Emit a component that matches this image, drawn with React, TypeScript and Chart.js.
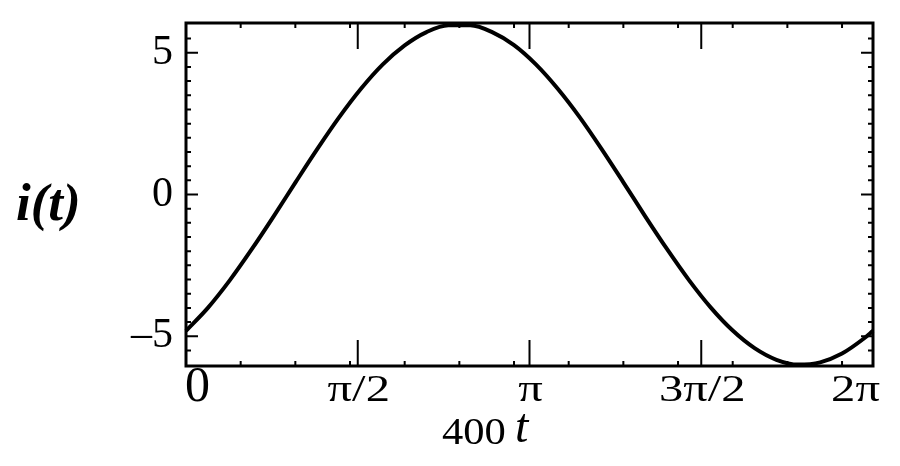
import { useEffect, useRef } from "react";
import { Chart, registerables } from "chart.js";

Chart.register(...registerables);

// 400t (rad) and i(t)
const xValues = [0, 0.2, 0.4, 0.6, 0.8, 1.0, 1.2, 1.4, 1.6, 1.8, 2.0, 2.2, 2.4, 2.6, 2.8, 3.0, 3.2, 3.4, 3.6, 3.8, 4.0, 4.2, 4.4, 4.6, 4.8, 5.0, 5.2, 5.4, 5.6, 5.8, 6.0, 6.2, 6.283];
const iValues = [-4.81, -4.0, -3.03, -1.94, -0.78, 0.42, 1.6, 2.72, 3.73, 4.59, 5.26, 5.73, 5.97, 5.97, 5.73, 5.27, 4.59, 3.73, 2.73, 1.61, 0.43, -0.77, -1.93, -3.02, -3.99, -4.8, -5.42, -5.83, -6.0, -5.92, -5.61, -5.08, -4.81];

const xMajorTicks = [0, Math.PI / 2, Math.PI, (3 * Math.PI) / 2, 2 * Math.PI];
const xTickLabels = ["0", "π/2", "π", "3π/2", "2π"];
const xMinorTicks = [0.5, 1, 1.5, 2, 2.5, 3, 3.5, 4, 4.5, 5, 5.5, 6];
const yMajorTicks = [-5, 0, 5];
const yTickLabels = ["\u20135", "0", "5"];
const yMinorTicks = [-5.5, -4.5, -4, -3.5, -3, -2.5, -2, -1.5, -1, -0.5, 0.5, 1, 1.5, 2, 2.5, 3, 3.5, 4, 4.5, 5.5];

const serif = '"Liberation Serif", "Times New Roman", serif';

// text in the source is drawn wide, so stretch it sideways a bit
function wideText(ctx: CanvasRenderingContext2D, text: string, x: number, y: number, sx: number, align: CanvasTextAlign) {
  ctx.save();
  ctx.translate(x, y);
  ctx.scale(sx, 1);
  ctx.textAlign = align;
  ctx.fillText(text, 0, 0);
  ctx.restore();
}

const framePlugin = {
  id: "frameTicks",
  afterDraw(chart: any) {
    const { ctx, chartArea: a, scales } = chart;
    const x = scales.x;
    const y = scales.y;
    ctx.save();
    ctx.strokeStyle = "#000";
    ctx.lineWidth = 3;
    ctx.strokeRect(a.left, a.top, a.right - a.left, a.bottom - a.top);

    ctx.lineWidth = 2;
    ctx.beginPath();
    const xt = (v: number, len: number) => {
      const px = x.getPixelForValue(v);
      ctx.moveTo(px, a.bottom);
      ctx.lineTo(px, a.bottom - len);
      ctx.moveTo(px, a.top);
      ctx.lineTo(px, a.top + len);
    };
    const yt = (v: number, len: number) => {
      const py = y.getPixelForValue(v);
      ctx.moveTo(a.left, py);
      ctx.lineTo(a.left + len, py);
      ctx.moveTo(a.right, py);
      ctx.lineTo(a.right - len, py);
    };
    xMinorTicks.forEach((v) => xt(v, 5));
    xMajorTicks.forEach((v) => xt(v, 26));
    yMinorTicks.forEach((v) => yt(v, 5));
    yMajorTicks.forEach((v) => yt(v, 12));
    ctx.stroke();

    ctx.fillStyle = "#000";
    ctx.textBaseline = "alphabetic";

    // x tick labels
    const base = a.bottom + 35;
    xMajorTicks.forEach((v, k) => {
      const px = x.getPixelForValue(v);
      if (k === 0) {
        ctx.font = `50px ${serif}`;
        wideText(ctx, xTickLabels[k], px - 1, base, 1, "left");
      } else {
        ctx.font = `38px ${serif}`;
        const last = k === xMajorTicks.length - 1;
        wideText(ctx, xTickLabels[k], last ? px + 7 : px + 1, base, 1.28, last ? "right" : "center");
      }
    });

    // axis titles
    ctx.textAlign = "left";
    ctx.font = `italic bold 53px ${serif}`;
    ctx.fillText("i(t)", 16, 220);

    ctx.font = `37px ${serif}`;
    wideText(ctx, "400", 442, 444, 1.15, "left");
    ctx.font = `italic 48px ${serif}`;
    ctx.textAlign = "left";
    ctx.fillText("t", 515, 442);
    ctx.restore();
  },
};

export default function App() {
  const canvasRef = useRef<HTMLCanvasElement | null>(null);
  const chartRef = useRef<Chart | null>(null);

  useEffect(() => {
    document.body.style.margin = "0";
    if (canvasRef.current) {
      if (chartRef.current) {
        chartRef.current.destroy();
      }
      chartRef.current = new Chart(canvasRef.current, {
        type: "line",
        data: {
          datasets: [
            {
              data: xValues.map((v, k) => ({ x: v, y: iValues[k] })),
              borderColor: "#000",
              borderWidth: 4,
              pointRadius: 0,
              cubicInterpolationMode: "monotone",
              clip: 4,
            },
          ],
        },
        options: {
          animation: false,
          responsive: true,
          maintainAspectRatio: false,
          layout: { padding: { top: 23, right: 27, left: 0, bottom: 0 } },
          plugins: { legend: { display: false }, tooltip: { enabled: false } },
          scales: {
            x: {
              type: "linear",
              min: 0,
              max: 2 * Math.PI,
              grid: { display: false, drawTicks: false },
              border: { display: false },
              afterBuildTicks: (s: any) => {
                s.ticks = xMajorTicks.map((v) => ({ value: v }));
              },
              afterFit: (s: any) => {
                s.height = 100;
                s.paddingLeft = 0;
                s.paddingRight = 0;
              },
              ticks: { display: false },
            },
            y: {
              min: -6.05,
              max: 6.05,
              grid: { display: false, drawTicks: false },
              border: { display: false },
              afterBuildTicks: (s: any) => {
                s.ticks = yMajorTicks.map((v) => ({ value: v }));
              },
              afterFit: (s: any) => {
                s.width = 186;
                s.paddingTop = 0;
                s.paddingBottom = 0;
              },
              ticks: {
                padding: 13,
                color: "#000",
                font: { family: serif, size: 42 },
                callback: (_v: any, k: number) => yTickLabels[k],
              },
            },
          },
        },
        plugins: [framePlugin],
      });
    }
    return () => {
      if (chartRef.current) {
        chartRef.current.destroy();
        chartRef.current = null;
      }
    };
  }, []);

  return (
    <div style={{ width: 900, height: 466, position: "relative", background: "#fff" }}>
      <canvas ref={canvasRef}></canvas>
    </div>
  );
}
